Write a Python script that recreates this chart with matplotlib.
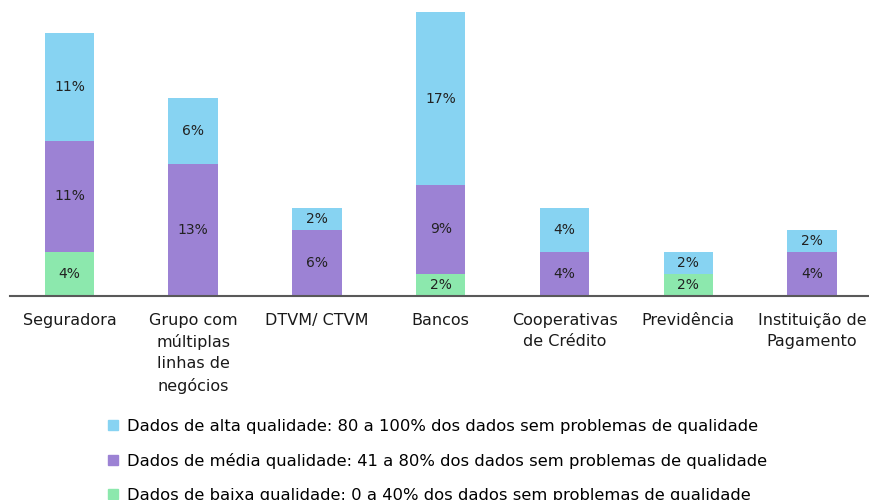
import numpy as np
import matplotlib
matplotlib.use("Agg")
import matplotlib.pyplot as plt
from matplotlib.patches import Patch

categories = ["Seguradora", "Grupo com\nmúltiplas\nlinhas de\nnegócios", "DTVM/ CTVM",
              "Bancos", "Cooperativas\nde Crédito", "Previdência", "Instituição de\nPagamento"]

# bar heights (in %), and the labels printed inside them
baixa = [4.0, 0, 0, 2.0, 0, 2.0, 0]
media = [10.1, 12.0, 6.0, 8.1, 4.0, 0, 4.0]
alta = [9.8, 6.0, 2.0, 15.7, 4.0, 2.0, 2.0]
baixa_lbl = ["4%", "", "", "2%", "", "2%", ""]
media_lbl = ["11%", "13%", "6%", "9%", "4%", "", "4%"]
alta_lbl = ["11%", "6%", "2%", "17%", "4%", "2%", "2%"]

series_names = ["Dados de alta qualidade: 80 a 100% dos dados sem problemas de qualidade",
                "Dados de média qualidade: 41 a 80% dos dados sem problemas de qualidade",
                "Dados de baixa qualidade: 0 a 40% dos dados sem problemas de qualidade"]

c_alta = "#87d3f2"
c_media = "#9c82d4"
c_baixa = "#8ce8ad"

plt.rcParams["font.family"] = "DejaVu Sans"

fig = plt.figure(figsize=(8.69, 5.0), dpi=100)
ax = fig.add_axes([0.0115, 0.408, 0.9885, 0.592])

x = np.arange(len(categories))
w = 0.4
b0 = np.zeros(len(x))
b1 = np.array(baixa)
b2 = b1 + np.array(media)

ax.bar(x, baixa, w, color=c_baixa)
ax.bar(x, media, w, bottom=b1, color=c_media)
ax.bar(x, alta, w, bottom=b2, color=c_alta)

for vals, bottoms, lbls in [(baixa, b0, baixa_lbl), (media, b1, media_lbl), (alta, b2, alta_lbl)]:
    for i in range(len(x)):
        if lbls[i]:
            ax.text(x[i], bottoms[i] + vals[i] / 2, lbls[i], ha="center", va="center",
                    fontsize=10, color="#222222")

ax.set_xlim(-0.48, 6.46)
ax.set_ylim(0, 296 / 11)
ax.set_yticks([])
ax.set_xticks(x)
ax.set_xticklabels(categories, fontsize=11.5, linespacing=1.5, color="#1a1a1a")
ax.tick_params(axis="x", length=0, pad=12)
for s in ["top", "right", "left"]:
    ax.spines[s].set_visible(False)
ax.spines["bottom"].set_color("#595959")
ax.spines["bottom"].set_linewidth(1.5)

handles = [Patch(color=c_alta), Patch(color=c_media), Patch(color=c_baixa)]
fig.legend(handles, series_names, loc="upper left", bbox_to_anchor=(0.124, 0.162),
           frameon=False, fontsize=11.8, handlelength=0.6, handleheight=0.6,
           handletextpad=0.6, labelspacing=1.15, borderaxespad=0, borderpad=0)

fig.savefig("out.png", dpi=100)
